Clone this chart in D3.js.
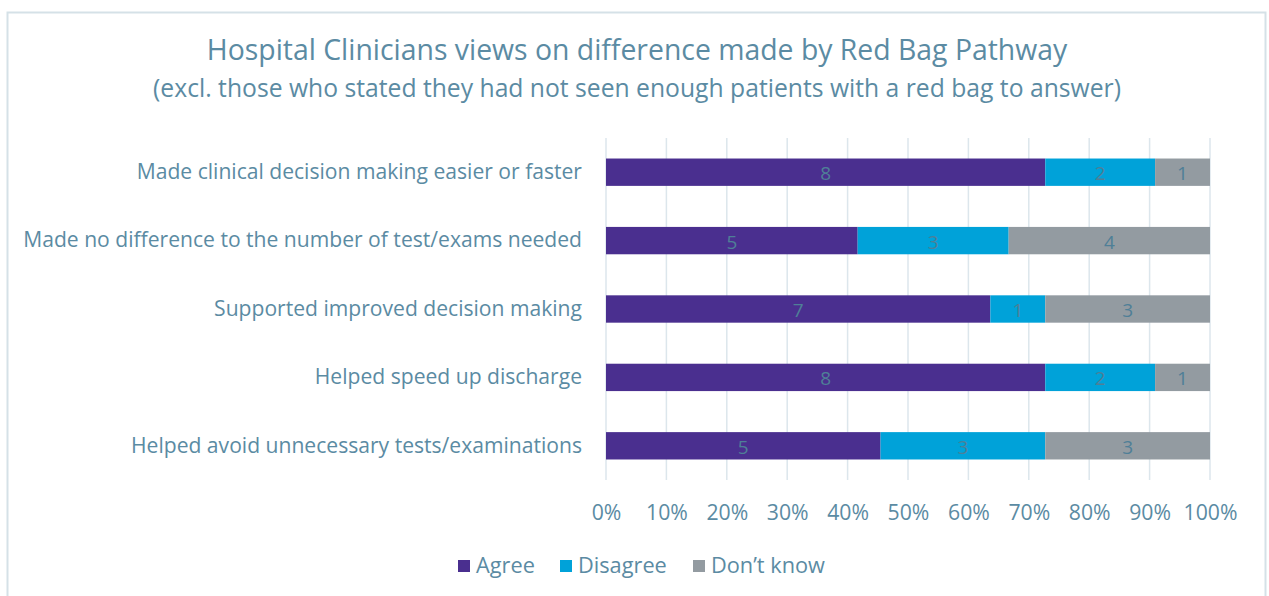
<!DOCTYPE html>
<html>
<head>
<meta charset="utf-8">
<script src="https://cdn.jsdelivr.net/npm/d3@7"></script>
<style>
  html, body { margin: 0; padding: 0; background: #ffffff; }
  svg { display: block; font-family: "Open Sans", Lato, sans-serif; }
</style>
</head>
<body>
<svg id="chart" width="1269" height="596"></svg>
<script>
// Survey responses (counts of clinicians) per statement
const categories = [
  "Made clinical decision making easier or faster",
  "Made no difference to the number of test/exams needed",
  "Supported improved decision making",
  "Helped speed up discharge",
  "Helped avoid unnecessary tests/examinations"
];
const seriesNames = ["Agree", "Disagree", "Don\u2019t know"];
const agree    = [8, 5, 7, 8, 5];
const disagree = [2, 3, 1, 2, 3];
const dontKnow = [1, 4, 3, 1, 3];
const xTicks = [0, 0.1, 0.2, 0.3, 0.4, 0.5, 0.6, 0.7, 0.8, 0.9, 1];

const colors = ["#4a2f8f", "#00a2d9", "#939ba1"];
const textColor = "#5b8ba3";
const FONT = "'Open Sans', Lato, sans-serif";

const svg = d3.select("#chart");
const W = 1269, H = 596;

// scale a group of text nodes so the widest one spans `target` px
function fitWidth(sel, target, startSize) {
  sel.attr("font-size", startSize);
  const widest = d3.max(sel.nodes(), n => n.getComputedTextLength());
  sel.attr("font-size", startSize * target / widest);
}

// outer chart frame
svg.append("rect")
  .attr("x", 7.5).attr("y", 12.5)
  .attr("width", 1258).attr("height", 600)
  .attr("fill", "#ffffff")
  .attr("stroke", "#d5e1e7").attr("stroke-width", 2);

// titles
const title = svg.append("text")
  .attr("x", 637).attr("y", 60)
  .attr("text-anchor", "middle")
  .attr("fill", textColor)
  .attr("font-family", FONT)
  .text("Hospital Clinicians views on difference made by Red Bag Pathway");
fitWidth(title, 861, 26);
const subtitle = svg.append("text")
  .attr("x", 637).attr("y", 97)
  .attr("text-anchor", "middle")
  .attr("fill", textColor)
  .attr("font-family", FONT)
  .text("(excl. those who stated they had not seen enough patients with a red bag to answer)");
fitWidth(subtitle, 968, 22);

const margin = { left: 606, right: 59, top: 138, bottom: 116 };
const plotW = W - margin.left - margin.right;
const plotH = H - margin.top - margin.bottom;

const rows = categories.map((c, i) => ({ cat: c, values: [agree[i], disagree[i], dontKnow[i]] }));
const tableRows = rows.map(r => {
  const total = d3.sum(r.values);
  const o = { cat: r.cat };
  seriesNames.forEach((s, j) => { o[s] = r.values[j] / total; o[s + "_n"] = r.values[j]; });
  return o;
});
const stacked = d3.stack().keys(seriesNames)(tableRows);

const x = d3.scaleLinear().domain([0, 1]).range([0, plotW]);
const y = d3.scaleBand().domain(categories).range([0, plotH]).paddingInner(0.6).paddingOuter(0.3);

const g = svg.append("g").attr("transform", `translate(${margin.left},${margin.top})`);

// vertical gridlines
g.append("g").selectAll("line")
  .data(xTicks).join("line")
  .attr("x1", d => x(d)).attr("x2", d => x(d))
  .attr("y1", 0).attr("y2", plotH)
  .attr("stroke", "#dce6ec").attr("stroke-width", 1.5);

// x axis labels
const xAxis = d3.axisBottom(x).tickValues(xTicks).tickFormat(d3.format(".0%")).tickSize(0).tickPadding(25);
const xa = g.append("g").attr("transform", `translate(0,${plotH})`).call(xAxis);
xa.select(".domain").remove();
const xLabels = xa.selectAll("text").attr("fill", textColor).attr("font-family", FONT);
fitWidth(xLabels, 54, 19);

// category labels
const ya = g.append("g").call(d3.axisLeft(y).tickSize(0).tickPadding(24));
ya.select(".domain").remove();
const yLabels = ya.selectAll("text").attr("fill", textColor).attr("font-family", FONT);
fitWidth(yLabels, 559, 20);

// stacked bars
const layers = g.selectAll(".layer").data(stacked).join("g")
  .attr("class", "layer")
  .attr("fill", (d, i) => colors[i]);
layers.selectAll("rect")
  .data(d => d.map(v => ({ v, key: d.key })))
  .join("rect")
  .attr("x", d => x(d.v[0]))
  .attr("y", d => y(d.v.data.cat))
  .attr("width", d => x(d.v[1]) - x(d.v[0]))
  .attr("height", y.bandwidth());

// value labels
layers.selectAll("text")
  .data(d => d.map(v => ({ v, key: d.key })))
  .join("text")
  .attr("x", d => (x(d.v[0]) + x(d.v[1])) / 2)
  .attr("y", d => y(d.v.data.cat) + y.bandwidth() / 2 + 8)
  .attr("text-anchor", "middle")
  .attr("fill", "#4f7f97")
  .attr("font-family", FONT)
  .attr("font-size", 19)
  .text(d => d.v.data[d.key + "_n"]);

// legend
const legendX = [458, 560, 693];
const leg = svg.append("g").attr("transform", "translate(0,560)");
const legTexts = [];
seriesNames.forEach((s, i) => {
  leg.append("rect").attr("x", legendX[i]).attr("y", 0).attr("width", 12).attr("height", 12).attr("fill", colors[i]);
  legTexts.push(leg.append("text").attr("x", legendX[i] + 18).attr("y", 13)
    .attr("fill", textColor).attr("font-family", FONT).text(s).node());
});
fitWidth(d3.selectAll(legTexts), 114, 20);
</script>
</body>
</html>
